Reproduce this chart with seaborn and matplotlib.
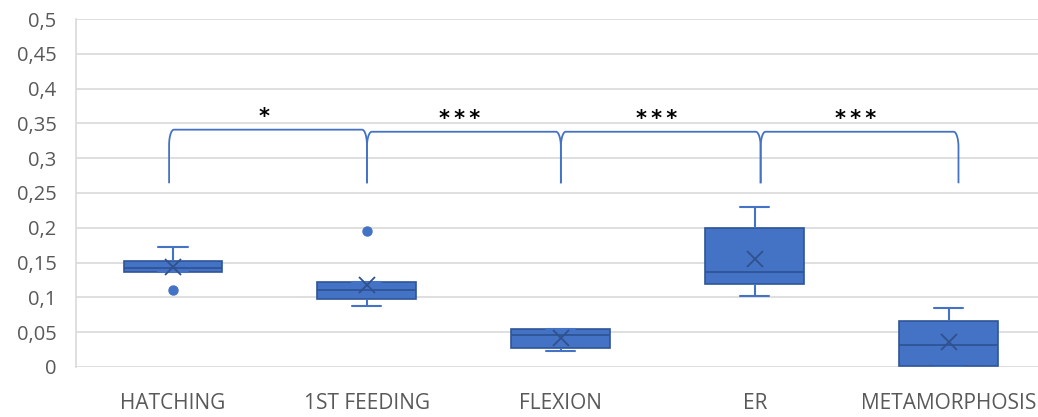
import numpy as np
import pandas as pd
import matplotlib
matplotlib.use("Agg")
import matplotlib.pyplot as plt
from matplotlib.ticker import FuncFormatter, MultipleLocator
import seaborn as sns

# Measured values per developmental stage
stages = ["HATCHING", "1ST FEEDING", "FLEXION", "ER", "METAMORPHOSIS"]
hatching = [0.110, 0.136, 0.136, 0.139, 0.142, 0.146, 0.152, 0.155, 0.173]
first_feeding = [0.0876, 0.095, 0.098, 0.104, 0.1106, 0.120, 0.1226, 0.1226, 0.196]
flexion = [0.0225, 0.025, 0.0273, 0.043, 0.0455, 0.052, 0.0541, 0.0541, 0.0541]
er = [0.102, 0.110, 0.1188, 0.125, 0.1365, 0.160, 0.1992, 0.215, 0.2304]
metamorphosis = [0.0, 0.001, 0.002, 0.015, 0.0316, 0.048, 0.0656, 0.070, 0.0853]

# Pairwise comparisons between consecutive stages
pair_labels = ["*", "*\u2009*\u2009*", "*\u2009*\u2009*", "*\u2009*\u2009*"]
bracket_top = [0.341, 0.338, 0.338, 0.338]
bracket_base = 0.264

values = [hatching, first_feeding, flexion, er, metamorphosis]
df = pd.DataFrame({
    "stage": np.repeat(stages, [len(v) for v in values]),
    "value": np.concatenate(values),
})

BLUE = "#4472C4"
DARK = "#2F5597"
GRID = "#D9D9D9"
TEXT = "#595959"

sns.set_theme(style="white")
plt.rcParams["font.family"] = ["Open Sans", "DejaVu Sans"]

W, H = 1038, 417
fig = plt.figure(figsize=(W / 100, H / 100), dpi=100)
ax = fig.add_axes([76 / W, 50 / H, (W - 76) / W, 348 / H])

sns.boxplot(
    data=df, x="stage", y="value", order=stages, ax=ax,
    width=0.51, color=BLUE, saturation=1, linecolor=DARK, linewidth=1.2,
    showmeans=True,
    meanprops=dict(marker="x", markersize=11, markeredgecolor="#2F528F",
                   markeredgewidth=1.3, markerfacecolor="none"),
    flierprops=dict(marker="o", markersize=6.5, markerfacecolor=BLUE,
                    markeredgecolor=BLUE),
    whiskerprops=dict(color=BLUE, linewidth=1.5),
    capprops=dict(color=BLUE, linewidth=1.5),
    medianprops=dict(color=DARK, linewidth=1.3),
    capwidths=0.15,
)

ax.set_xlim(-0.5, 4.46)
ax.set_ylim(0, 0.5)
ax.yaxis.set_major_locator(MultipleLocator(0.05))
ax.yaxis.set_major_formatter(
    FuncFormatter(lambda v, _: f"{round(v, 2):g}".replace(".", ",")))
ax.grid(axis="y", color=GRID, linewidth=1.2, zorder=0)
ax.set_axisbelow(True)
for side in ["top", "right", "bottom"]:
    ax.spines[side].set_visible(False)
ax.spines["left"].set_color(GRID)
ax.spines["left"].set_linewidth(1.2)
ax.tick_params(axis="y", length=0, pad=14, labelsize=14.5, labelcolor=TEXT)
ax.tick_params(axis="x", length=0, pad=19, labelsize=15, labelcolor=TEXT)
ax.set_xlabel("")
ax.set_ylabel("")


def bracket(x0, x1, top, base, rx=0.025, ry=0.022):
    """Rounded bracket spanning two category positions."""
    t = np.linspace(0, np.pi / 2, 20)
    left_x = x0 + rx - rx * np.cos(t)
    left_y = top - ry + ry * np.sin(t)
    right_x = x1 - rx + rx * np.sin(t)
    right_y = top - ry + ry * np.cos(t)
    xs = np.concatenate([[x0], left_x, right_x, [x1]])
    ys = np.concatenate([[base], left_y, right_y, [base]])
    return xs, ys


# bracket legs sit slightly outside the outer boxes' centres
legs = np.arange(len(stages)) + np.array([-0.02, 0.0, 0.0, 0.03, 0.05])
for i, (lab, top) in enumerate(zip(pair_labels, bracket_top)):
    xs, ys = bracket(legs[i], legs[i + 1], top, bracket_base)
    ax.plot(xs, ys, color=BLUE, linewidth=1.3, solid_capstyle="butt", zorder=3)
    ax.text((legs[i] + legs[i + 1]) / 2 - 0.02, top + 0.018, lab,
            ha="center", va="center", fontsize=15, fontweight="bold",
            color="black", family=["DejaVu Sans"])

fig.savefig("out.png", dpi=100)
